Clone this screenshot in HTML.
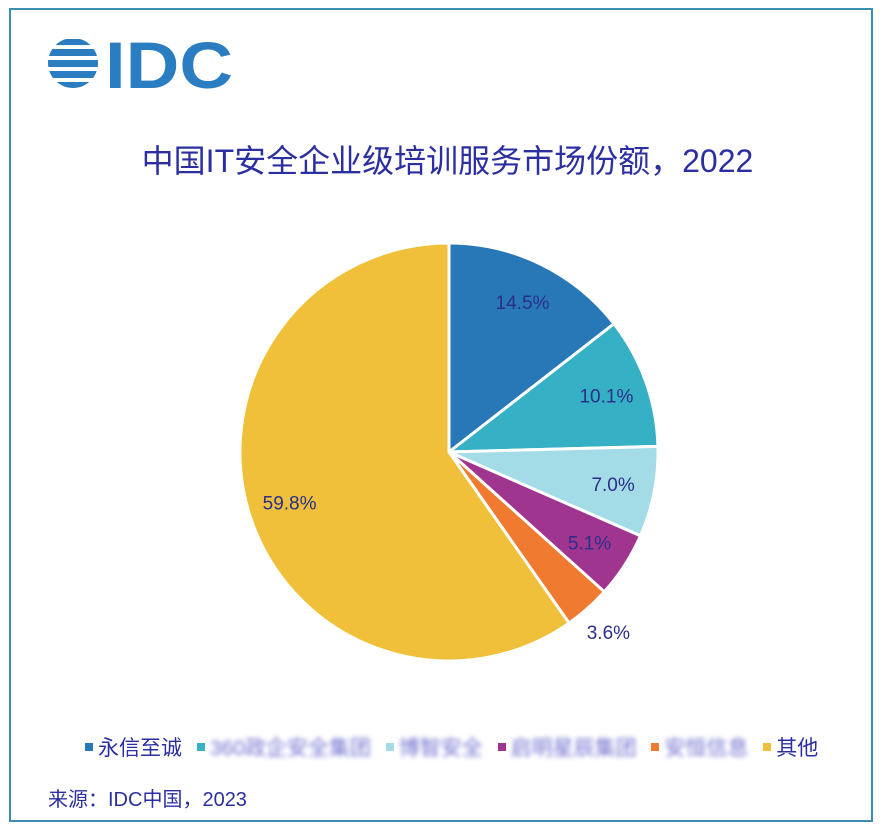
<!DOCTYPE html>
<html><head><meta charset="utf-8"><style>
body{margin:0;background:#fff;width:883px;height:834px;overflow:hidden;font-family:"Liberation Sans","Noto Sans CJK SC",sans-serif}
#frame{position:absolute;left:9px;top:8px;width:864px;height:814px;border:2px solid #3a8fb0;box-sizing:border-box}
.t{position:absolute;white-space:nowrap}
</style></head><body>
<div id="frame"></div>
<svg class="t" style="left:45px;top:35px" width="200" height="60">
 <defs><clipPath id="c"><circle cx="28" cy="28" r="25"/></clipPath></defs>
 <g clip-path="url(#c)" fill="#2a7dc0">
  <rect x="0" y="4" width="56" height="6"/><rect x="0" y="14" width="56" height="7"/><rect x="0" y="25" width="56" height="7"/><rect x="0" y="36" width="56" height="7"/><rect x="0" y="47" width="56" height="6"/>
 </g>
 <text x="60" y="53" font-family="Liberation Sans" font-weight="bold" font-size="66" fill="#2a7dc0" textLength="128" lengthAdjust="spacingAndGlyphs">IDC</text>
</svg>
<div class="t" style="left:0;width:895px;text-align:center;top:136px;font-size:32px;color:#2b2fa0">中国IT安全企业级培训服务市场份额，2022</div>
<svg id="pie" class="t" style="left:0;top:0" width="883" height="834"></svg>
<div class="t" style="left:85px;top:732px;font-size:21px;color:#2b2fa0">
 <span><span style="display:inline-block;width:8px;height:8px;background:#2878b8;margin-right:5px;vertical-align:4px"></span>永信至诚</span>
 <span style="margin-left:9px"><span style="display:inline-block;width:8px;height:8px;background:#36b0c4;margin-right:5px;vertical-align:4px"></span><span style="filter:blur(2.5px);color:#7070d0">360政企安全集团</span></span>
 <span style="margin-left:9px"><span style="display:inline-block;width:8px;height:8px;background:#a3dce6;margin-right:5px;vertical-align:4px"></span><span style="filter:blur(2.5px);color:#7070d0">博智安全</span></span>
 <span style="margin-left:9px"><span style="display:inline-block;width:8px;height:8px;background:#a0358f;margin-right:5px;vertical-align:4px"></span><span style="filter:blur(2.5px);color:#7070d0">启明星辰集团</span></span>
 <span style="margin-left:9px"><span style="display:inline-block;width:8px;height:8px;background:#f07a30;margin-right:5px;vertical-align:4px"></span><span style="filter:blur(2.5px);color:#7070d0">安恒信息</span></span>
 <span style="margin-left:9px"><span style="display:inline-block;width:8px;height:8px;background:#f0c03a;margin-right:5px;vertical-align:4px"></span>其他</span>
</div>
<div class="t" style="left:48px;top:783px;font-size:20px;color:#2b2fa0">来源：IDC中国，2023</div>
<script>
const categories=["永信至诚","360政企安全集团","博智安全","启明星辰集团","安恒信息","其他"];
const values=[14.5,10.1,7.0,5.1,3.6,59.8];
const labels=["14.5%","10.1%","7.0%","5.1%","3.6%","59.8%"];
const colors=["#2878b8","#36b0c4","#a3dce6","#a0358f","#f07a30","#f0c03a"];
const svg=document.getElementById('pie');const NS="http://www.w3.org/2000/svg";
const cx=449,cy=452,r=209;
const total=values.reduce((a,b)=>a+b,0);
function pt(a,R){return [cx+R*Math.sin(a),cy-R*Math.cos(a)];}
let acc=0;
values.forEach((v,i)=>{
 const a0=acc/total*2*Math.PI;acc+=v;const a1=acc/total*2*Math.PI;
 const p0=pt(a0,r),p1=pt(a1,r);
 const path=document.createElementNS(NS,'path');
 path.setAttribute('d',`M${cx},${cy}L${p0[0]},${p0[1]}A${r},${r} 0 ${a1-a0>Math.PI?1:0} 1 ${p1[0]},${p1[1]}Z`);
 path.setAttribute('fill',colors[i]);path.setAttribute('stroke','#fff');path.setAttribute('stroke-width','3');
 
 
 svg.appendChild(path);
 const am=(a0+a1)/2;const lp=pt(am,v<4?r*1.15:r*0.8);
 const t=document.createElementNS(NS,'text');
 t.setAttribute('x',lp[0]);t.setAttribute('y',lp[1]+7);t.setAttribute('text-anchor','middle');
 t.setAttribute('font-size','19');t.setAttribute('fill','#2b2f8a');t.setAttribute('font-family','Liberation Sans');
 t.textContent=labels[i];
 
 
 svg.appendChild(t);
});
</script>
</body></html>
